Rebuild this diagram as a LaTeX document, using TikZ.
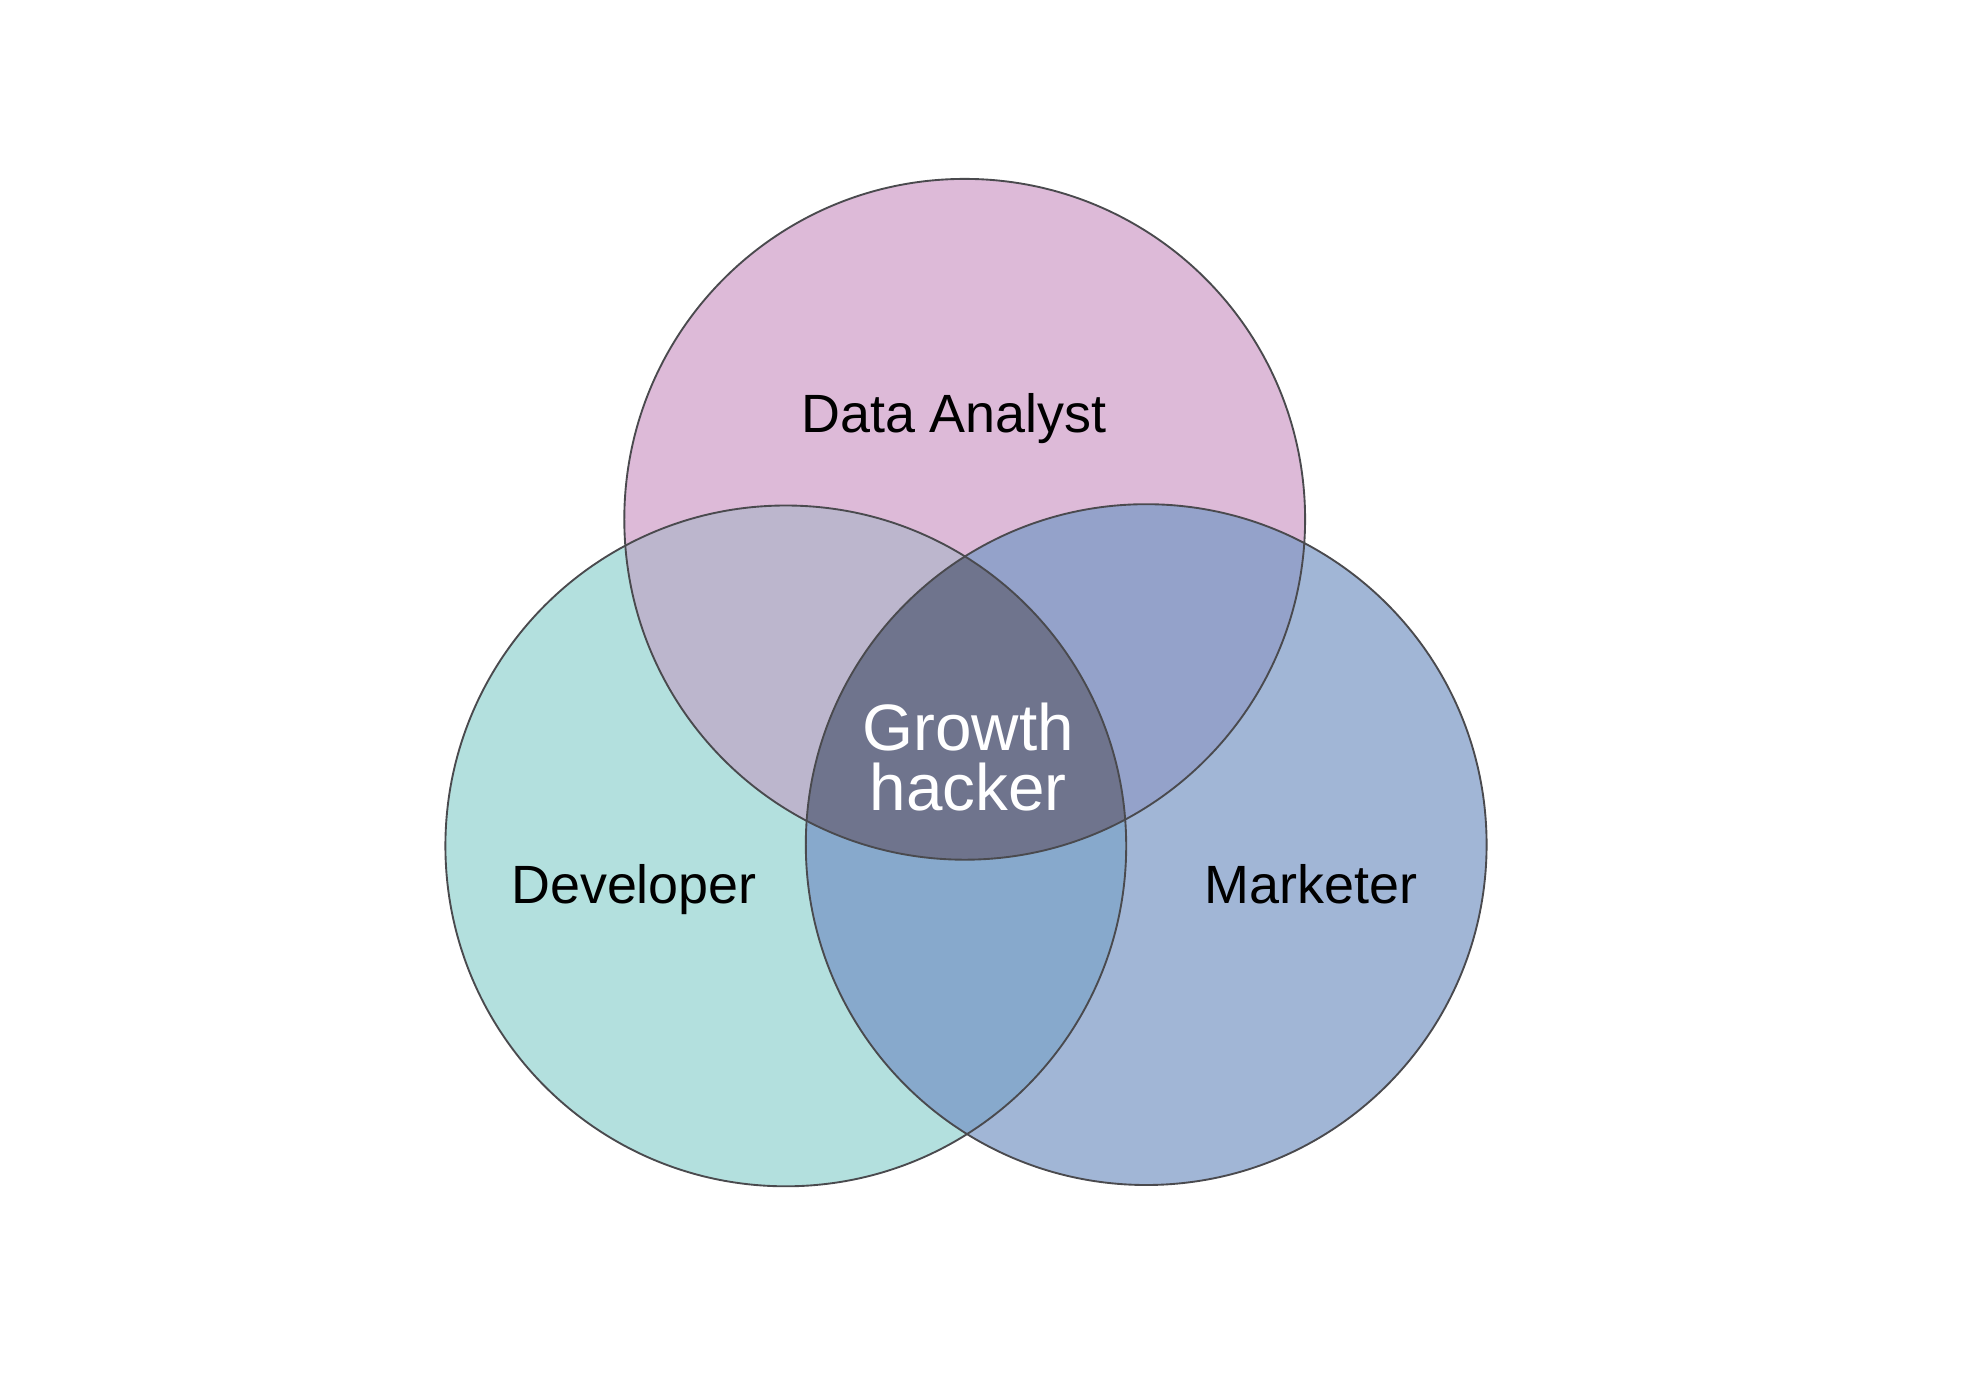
\documentclass[tikz,border=0pt]{standalone}
\usepackage{fontspec}
\setmainfont{Liberation Sans}
\definecolor{cpink}{HTML}{DDBAD8}
\definecolor{cteal}{HTML}{B3E0DE}
\definecolor{cblue}{HTML}{A1B6D6}
\definecolor{ctl}{HTML}{BCB6CD}
\definecolor{ctr}{HTML}{94A2CA}
\definecolor{cbot}{HTML}{87A9CC}
\definecolor{cmid}{HTML}{6F748D}
\definecolor{cline}{HTML}{4A4A4E}
\begin{document}
\begin{tikzpicture}[x=0.03cm,y=-0.03cm,
  lbl/.style={font=\fontsize{46}{54}\selectfont, text=black, anchor=base},
  ring/.style={draw=cline, line width=1.6pt}]
\useasboundingbox[fill=white] (0,0) rectangle (1962,1382);
\coordinate (T) at (964.7,519.3);
\coordinate (L) at (785.8,845.9);
\coordinate (R) at (1146.2,844.6);
\def\rr{340.4}
% base fills
\fill[cpink] (T) circle (\rr);
\fill[cteal] (L) circle (\rr);
\fill[cblue] (R) circle (\rr);
% pairwise overlaps
\begin{scope}\clip (T) circle (\rr); \fill[ctl] (L) circle (\rr); \end{scope}
\begin{scope}\clip (T) circle (\rr); \fill[ctr] (R) circle (\rr); \end{scope}
\begin{scope}\clip (L) circle (\rr); \fill[cbot] (R) circle (\rr); \end{scope}
\begin{scope}\clip (T) circle (\rr); \clip (L) circle (\rr); \fill[cmid] (R) circle (\rr); \end{scope}
% outlines
\draw[ring] (T) circle (\rr);
\draw[ring] (L) circle (\rr);
\draw[ring] (R) circle (\rr);
% labels
\node[lbl] (da) at (954,432) {Data Analyst};
\node[lbl] (dev) at (634,903) {Developer};
\node[lbl] (mk) at (1311,903) {Marketer};
\node[align=center, text=white, font=\fontsize{56}{51}\selectfont] (gh) at (968,757) {Growth\\hacker};
\end{tikzpicture}
\end{document}
